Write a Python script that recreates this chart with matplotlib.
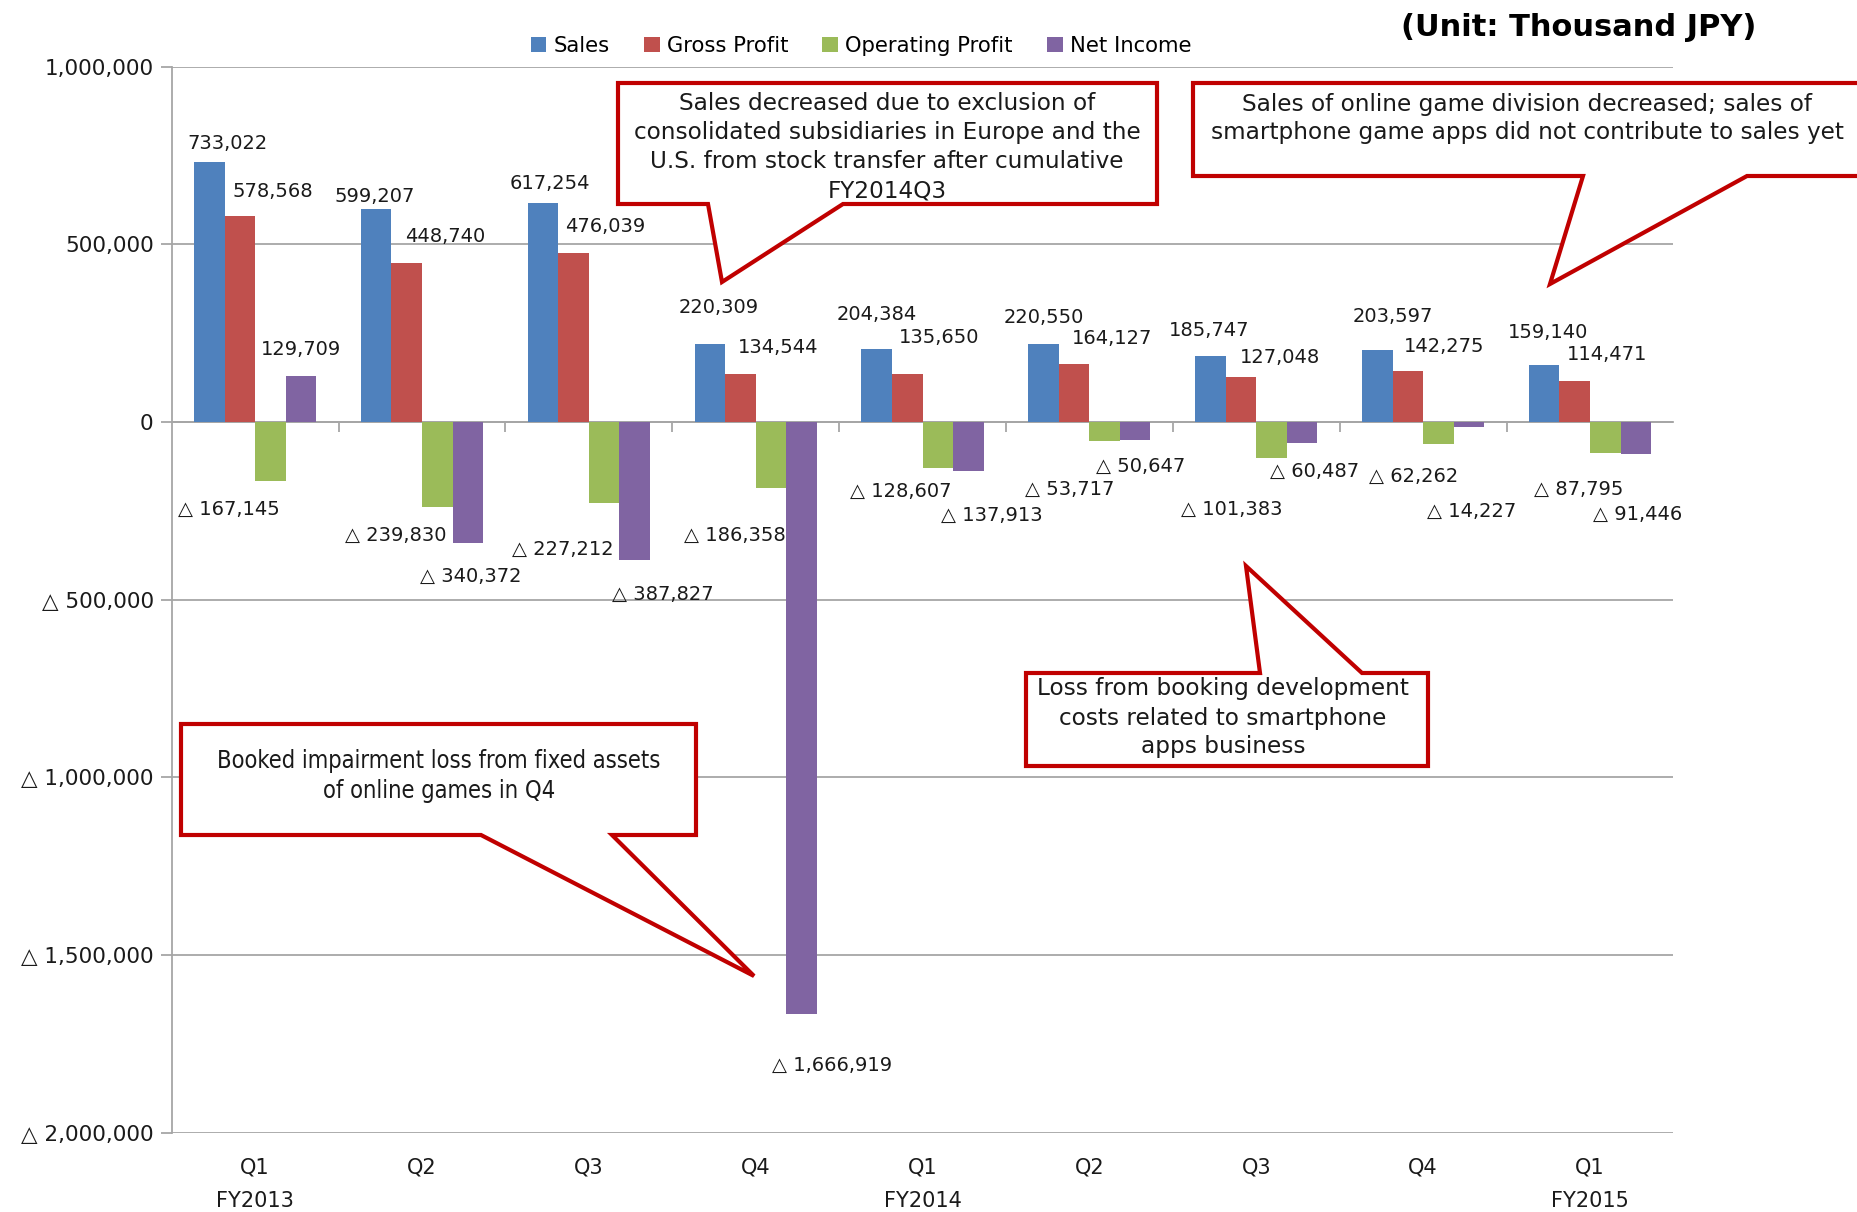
import matplotlib.pyplot as plt
from matplotlib.patches import Polygon
from matplotlib.ticker import FuncFormatter
import matplotlib.transforms as mtransforms
import numpy as np

quarters = ['Q1', 'Q2', 'Q3', 'Q4', 'Q1', 'Q2', 'Q3', 'Q4', 'Q1']
years = ['FY2013', '', '', '', 'FY2014', '', '', '', 'FY2015']
series_names = ['Sales', 'Gross Profit', 'Operating Profit', 'Net Income']
sales = [733022, 599207, 617254, 220309, 204384, 220550, 185747, 203597, 159140]
gross_profit = [578568, 448740, 476039, 134544, 135650, 164127, 127048, 142275, 114471]
operating_profit = [-167145, -239830, -227212, -186358, -128607, -53717, -101383, -62262, -87795]
net_income = [129709, -340372, -387827, -1666919, -137913, -50647, -60487, -14227, -91446]

colors = ['#4F81BD', '#C0504D', '#9BBB59', '#8064A2']

# hand placed data labels (offset in points from the bar end)
label_offsets = [
    [(13, 13), (-1, 9), (5, 14), (6, 26), (0, 25), (0, 19), (-1, 18), (11, 24), (3, 24)],
    [(24, 18), (28, 19), (23, 19), (27, 19), (23, 26), (27, 18), (28, 14), (26, 18), (23, 19)],
    [(-30, -20), (-30, -20), (-30, -34), (-26, -34), (-27, -17), (-25, -35), (-29, -37), (-18, -23), (-19, -26)],
    [(0, 19), (2, -24), (20, -25), (22, -37), (17, -32), (4, -19), (9, -20), (2, -61), (1, -43)],
]

plt.rcParams['font.family'] = ['DejaVu Sans']
W, H = 1857, 1212
fig = plt.figure(figsize=(W / 100, H / 100), dpi=100)
ax = fig.add_axes([171.7 / W, 1 - 1132.5 / H, (1673.4 - 171.7) / W, (1132.5 - 66.7) / H])


def fmt(v):
    if v < 0:
        return '\u25b3 {:,}'.format(int(-v))
    return '{:,}'.format(int(v))


x = np.arange(len(quarters))
w = 0.183
grid_c = '#A6A6A6'
for k, vals in enumerate([sales, gross_profit, operating_profit, net_income]):
    pos = x + (k - 1.5) * w
    ax.bar(pos, vals, width=w, color=colors[k], label=series_names[k], zorder=3)
    for i, v in enumerate(vals):
        dx, dy = label_offsets[k][i]
        ax.annotate(fmt(v), (pos[i], v), xytext=(dx, dy), textcoords='offset points',
                    ha='center', va='center', fontsize=14, color='#1a1a1a', zorder=4)

ax.set_xlim(-0.5, len(quarters) - 0.5)
ax.set_ylim(-2000000, 1000000)
ax.set_yticks(np.arange(-2000000, 1000001, 500000))
ax.yaxis.set_major_formatter(FuncFormatter(lambda v, p: fmt(v)))
ax.tick_params(axis='y', length=8, width=1.3, color=grid_c, labelsize=15.5, labelcolor='#1a1a1a', pad=5)
ax.yaxis.grid(True, color=grid_c, linewidth=1.3, zorder=0)
ax.set_axisbelow(True)

for s in ['top', 'right']:
    ax.spines[s].set_visible(False)
ax.spines['left'].set_color(grid_c)
ax.spines['left'].set_linewidth(1.3)
ax.spines['bottom'].set_position(('data', 0))
ax.spines['bottom'].set_color(grid_c)
ax.spines['bottom'].set_linewidth(1.3)
ax.set_xticks(np.arange(0.5, len(quarters) - 0.5, 1))
ax.set_xticklabels([])
ax.tick_params(axis='x', length=7, width=1.3, color=grid_c)

# category labels sit under the plot area
trans = mtransforms.blended_transform_factory(ax.transData, ax.transAxes)
for i in range(len(quarters)):
    ax.annotate(quarters[i], (i, 0), xycoords=trans, xytext=(0, -25), textcoords='offset points',
                ha='center', va='center', fontsize=15, color='#1a1a1a')
    if years[i]:
        ax.annotate(years[i], (i, 0), xycoords=trans, xytext=(0, -49), textcoords='offset points',
                    ha='center', va='center', fontsize=15, color='#1a1a1a')

fig.legend(loc='center', bbox_to_anchor=(861 / W, 1 - 46 / H), ncol=4, frameon=False,
           fontsize=15.2, handlelength=0.75, handleheight=0.75, handletextpad=0.35,
           columnspacing=1.6, borderaxespad=0)

fig.text(1579 / W, 1 - 27 / H, '(Unit: Thousand JPY)', ha='center', va='center',
         fontsize=22, fontweight='bold', color='black')

# callout boxes drawn in pixel space on top of everything
ov = fig.add_axes([0, 0, 1, 1], zorder=10)
ov.set_xlim(0, W)
ov.set_ylim(H, 0)
ov.axis('off')
ov.patch.set_alpha(0)
red = '#C00000'


def callout(box, base, tip, lines, x0, y0, step, size, stretch='normal', top=False):
    l, t, r, b = box
    if top:
        pts = [(l, t), (base[0], t), tip, (base[1], t), (r, t), (r, b), (l, b)]
    else:
        pts = [(l, t), (r, t), (r, b), (base[1], b), tip, (base[0], b), (l, b)]
    ov.add_patch(Polygon(pts, closed=True, facecolor='white', edgecolor=red,
                         linewidth=3, joinstyle='miter', clip_on=False))
    for j, line in enumerate(lines):
        ov.text(x0, y0 + j * step, line, ha='center', va='center', fontsize=size,
                fontstretch=stretch, color='#1a1a1a')


callout((618, 83, 1157, 204), (708, 843), (722, 282),
        ['Sales decreased due to exclusion of', 'consolidated subsidiaries in Europe and the',
         'U.S. from stock transfer after cumulative', 'FY2014Q3'],
        887, 104, 29, 16.7)
callout((1193, 83, 1880, 176), (1583, 1747), (1550, 284),
        ['Sales of online game division decreased; sales of',
         'smartphone game apps did not contribute to sales yet'],
        1527, 104, 29, 16.7)
callout((1026, 673, 1428, 766), (1260, 1362), (1246, 566),
        ['Loss from booking development', 'costs related to smartphone', 'apps business'],
        1223, 689, 29, 16.7, top=True)
callout((181, 724, 696, 835), (481, 612), (754, 976),
        ['Booked impairment loss from fixed assets', 'of online games in Q4'],
        439, 761, 30, 17, stretch='condensed')

fig.savefig('out.png', dpi=100)
